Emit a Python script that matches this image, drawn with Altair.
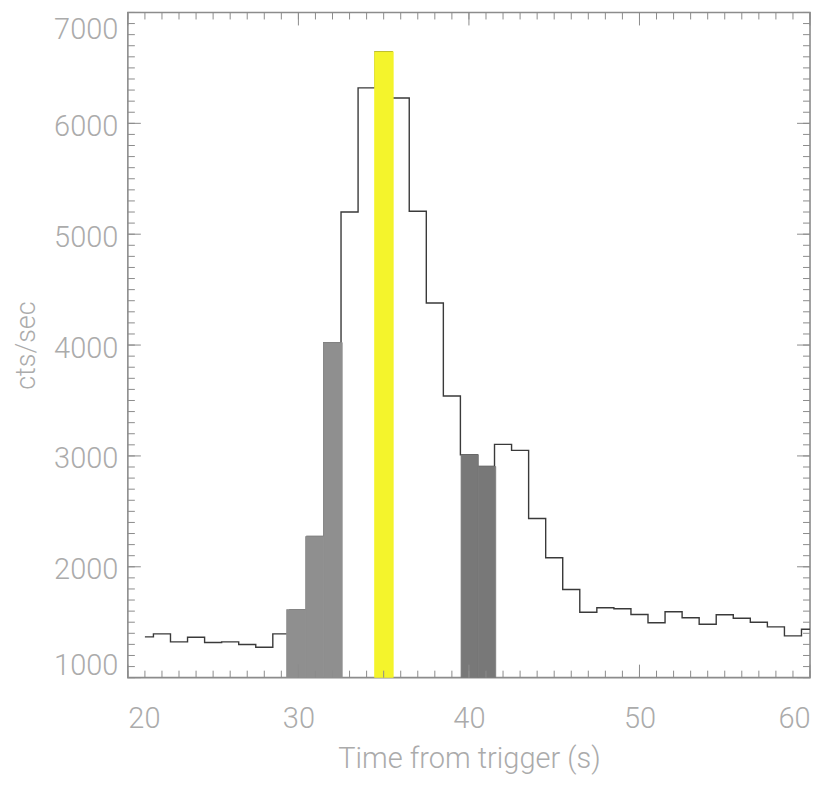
import altair as alt
import pandas as pd

# ---- data ----
step_x = [21.0, 21.5, 22.5, 23.5, 24.5, 25.5, 26.5, 27.5, 28.5, 29.5,
          30.5, 31.5, 32.5, 33.5, 34.5, 35.5, 36.5, 37.5, 38.5, 39.5,
          40.5, 41.5, 42.5, 43.5, 44.5, 45.5, 46.5, 47.5, 48.5, 49.5,
          50.5, 51.5, 52.5, 53.5, 54.5, 55.5, 56.5, 57.5, 58.5, 59.5, 60.0]
step_y = [1368, 1395, 1323, 1365, 1317, 1323, 1299, 1274, 1395, 1614,
          2273, 4022, 5200, 6320, 6646, 6229, 5207, 4379, 3540, 3011,
          2905, 3104, 3050, 2436, 2081, 1795, 1590, 1630, 1621, 1570,
          1495, 1594, 1540, 1482, 1567, 1536, 1500, 1458, 1377, 1437, 1437]

hl_start = [29.31, 30.42, 31.48, 34.47, 39.54, 40.55]
hl_end = [30.42, 31.48, 32.57, 35.56, 40.55, 41.57]
hl_top = [1614, 2273, 4022, 6646, 3011, 2905]
hl_group = ["rise", "rise", "rise", "peak", "decay", "decay"]

x_major = [20, 30, 40, 50, 60]
x_minor = list(range(20, 61))
y_major = [1000, 2000, 3000, 4000, 5000, 6000, 7000]
y_minor = list(range(1000, 7001, 100))

W, H = 683, 666
FONT = "Roboto"
AX = "#8c8c8c"
TXT = "#ababab"

step_df = pd.DataFrame({"t": step_x, "rate": step_y})
hl_df = pd.DataFrame({"t0": hl_start, "t1": hl_end, "top": hl_top,
                      "base": [1000] * len(hl_top), "g": hl_group})
xmaj_df = pd.DataFrame({"t": x_major})
xmin_df = pd.DataFrame({"t": x_minor})
ymaj_df = pd.DataFrame({"v": y_major})
ymin_df = pd.DataFrame({"v": y_minor})

xscale = alt.Scale(domain=[20, 60], nice=False, zero=False)
yscale = alt.Scale(domain=[1000, 7000], nice=False, zero=False)
cscale = alt.Scale(domain=["rise", "peak", "decay"],
                   range=["#8f8f8f", "#f4f42c", "#787878"])

xaxis = alt.Axis(values=x_major, ticks=False, domain=False, grid=False,
                 labelFont=FONT, labelFontSize=29, labelFontWeight=300,
                 labelColor=TXT, labelPadding=27,
                 title="Time from trigger (s)", titleFont=FONT,
                 titleFontSize=29, titleFontWeight=300, titleColor=TXT,
                 titleBaseline="alphabetic", titleY=90, titleX=W / 2)
yaxis = alt.Axis(values=y_major, ticks=False, domain=False, grid=False,
                 labelFont=FONT, labelFontSize=29, labelFontWeight=300,
                 labelColor=TXT, labelPadding=10, labelFlush=True,
                 labelOffset=3, format="d",
                 title="cts/sec", titleFont=FONT, titleFontSize=27,
                 titleFontWeight=300, titleColor=TXT, titleAngle=270,
                 titleAlign="center", titleBaseline="alphabetic",
                 titleX=-93, titleY=H / 2)

line = alt.Chart(step_df).mark_line(
    interpolate="step-after", color="#3a3a3a", strokeWidth=1.4, clip=True
).encode(
    x=alt.X("t:Q", scale=xscale, axis=xaxis),
    y=alt.Y("rate:Q", scale=yscale, axis=yaxis),
)

bars = alt.Chart(hl_df).mark_rect(clip=True, strokeWidth=0.8).encode(
    x=alt.X("t0:Q", scale=xscale),
    x2="t1:Q",
    y=alt.Y("top:Q", scale=yscale),
    y2="base:Q",
    color=alt.Color("g:N", legend=None, scale=cscale),
    stroke=alt.Stroke("g:N", legend=None, scale=cscale),
)


def xticks(df, length):
    bot = alt.Chart(df).mark_rule(color=AX, strokeWidth=1).encode(
        x=alt.X("t:Q", scale=xscale), y=alt.value(H), y2=alt.value(H - length))
    top = alt.Chart(df).mark_rule(color=AX, strokeWidth=1).encode(
        x=alt.X("t:Q", scale=xscale), y=alt.value(0), y2=alt.value(length))
    return [bot, top]


def yticks(df, length):
    left = alt.Chart(df).mark_rule(color=AX, strokeWidth=1).encode(
        y=alt.Y("v:Q", scale=yscale), x=alt.value(0), x2=alt.value(length))
    right = alt.Chart(df).mark_rule(color=AX, strokeWidth=1).encode(
        y=alt.Y("v:Q", scale=yscale), x=alt.value(W), x2=alt.value(W - length))
    return [left, right]


layers = [line, bars] + xticks(xmin_df, 7) + xticks(xmaj_df, 13) \
    + yticks(ymin_df, 7) + yticks(ymaj_df, 13)

chart = alt.layer(*layers).properties(
    width=W, height=H,
    autosize=alt.AutoSizeParams(type="none"),
    padding={"left": 120, "top": 4, "right": 10, "bottom": 100},
    background="white",
).configure_view(stroke=AX, strokeWidth=1.6)

chart.save("out.html", embed_options={"renderer": "svg", "actions": False})
